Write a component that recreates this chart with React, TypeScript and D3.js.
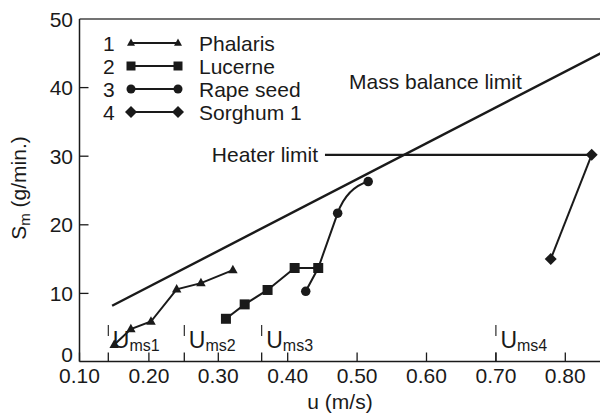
import React from "react";
import * as d3 from "d3";

const xTicks = [0.1, 0.2, 0.3, 0.4, 0.5, 0.6, 0.7, 0.8];
const yTicks = [0, 10, 20, 30, 40, 50];

const phalarisU = [0.15, 0.174, 0.203, 0.24, 0.275, 0.321];
const phalarisS = [2.5, 4.8, 5.9, 10.6, 11.5, 13.4];
const lucerneU = [0.311, 0.338, 0.371, 0.41, 0.444];
const lucerneS = [6.3, 8.4, 10.5, 13.7, 13.7];
const rapeU = [0.426, 0.444, 0.472, 0.516];
const rapeS = [10.3, 13.7, 21.7, 26.3];
const sorghumU = [0.779, 0.838];
const sorghumS = [15.0, 30.2];

const massU = [0.147, 0.87];
const massS = [8.2, 46.0];
const heaterU = [0.4537, 0.838];
const heaterS = [30.2, 30.2];

const umsU = [0.1415, 0.251, 0.3625, 0.7];
const umsLabels = ["ms1", "ms2", "ms3", "ms4"];

const legendNums = ["1", "2", "3", "4"];
const legendNames = ["Phalaris", "Lucerne", "Rape seed", "Sorghum 1"];
const legendKinds = ["tri", "sq", "circ", "dia"];

const FONT = "'Liberation Sans', Arial, Helvetica, sans-serif";
const INK = "#1a1a1a";
const FS = 21;

function markerPath(kind: string, s: number): string {
  if (kind === "tri") {
    const h = s * 0.9;
    return `M0,${-h * 0.62}L${s / 2},${h * 0.38}L${-s / 2},${h * 0.38}Z`;
  }
  if (kind === "sq") {
    const r = s / 2;
    return `M${-r},${-r}H${r}V${r}H${-r}Z`;
  }
  if (kind === "dia") {
    const r = s / 2;
    return `M0,${-r}L${r},0L0,${r}L${-r},0Z`;
  }
  return (d3.symbol().type(d3.symbolCircle).size(Math.PI * (s / 2) * (s / 2))() as string) || "";
}

export default function App() {
  const W = 600;
  const H = 418;
  const x = d3.scaleLinear().domain([0.1, 0.85]).range([79.5, 600]);
  const y = d3.scaleLinear().domain([0, 50]).range([362, 19]);
  const left = x(0.1);
  const top = y(50);
  const bottom = 361.5;

  const line = d3
    .line<[number, number]>()
    .x((d) => x(d[0]))
    .y((d) => y(d[1]));

  const zip = (a: number[], b: number[]) => a.map((v, i) => [v, b[i]] as [number, number]);

  // rape seed: straight segments, then a bending last segment
  const rapePts = zip(rapeU, rapeS);
  const rapePath = (() => {
    const p = d3.path();
    const px = rapePts.map((d) => [x(d[0]), y(d[1])]);
    p.moveTo(px[0][0], px[0][1]);
    for (let i = 1; i < px.length - 1; i++) p.lineTo(px[i][0], px[i][1]);
    const a = px[px.length - 2];
    const b = px[px.length - 1];
    p.quadraticCurveTo(a[0] + (b[0] - a[0]) * 0.3, a[1] + (b[1] - a[1]) * 0.8, b[0], b[1]);
    return p.toString();
  })();

  const series = [
    { pts: rapePts, kind: "circ", size: 9.5, d: rapePath },
    { pts: zip(phalarisU, phalarisS), kind: "tri", size: 9.5, d: "" },
    { pts: zip(lucerneU, lucerneS), kind: "sq", size: 10, d: "" },
    { pts: zip(sorghumU, sorghumS), kind: "dia", size: 12, d: "" },
  ];

  return (
    <svg
      width={W}
      height={H}
      viewBox={`0 0 ${W} ${H}`}
      style={{ position: "absolute", left: 0, top: 0, background: "#fff" }}
      fontFamily={FONT}
    >
      <rect x={0} y={0} width={W} height={H} fill="#fff" />
      {/* frame */}
      <line x1={left} x2={W} y1={top} y2={top} stroke="#444" strokeWidth={1.5} />
      <line x1={left} x2={left} y1={top} y2={bottom} stroke={INK} strokeWidth={1.5} />
      <line x1={left} x2={W} y1={bottom} y2={bottom} stroke={INK} strokeWidth={1.5} />

      {/* y ticks */}
      {yTicks.map((t) => (
        <g key={"y" + t}>
          {t > 0 && t < 50 && (
            <line x1={left} x2={left + 9} y1={y(t)} y2={y(t)} stroke={INK} strokeWidth={1.3} />
          )}
          <text
            x={73}
            y={y(t) + (t === 0 ? -8 : 0)}
            dy="0.36em"
            textAnchor="end"
            fontSize={FS}
            fill={INK}
          >
            {t}
          </text>
        </g>
      ))}

      {/* x ticks */}
      {xTicks.map((t) => (
        <g key={"x" + t}>
          <line x1={x(t)} x2={x(t)} y1={bottom} y2={bottom - 9} stroke={INK} strokeWidth={1.3} />
          <text x={x(t)} y={383} textAnchor="middle" fontSize={FS} fill={INK}>
            {t.toFixed(2)}
          </text>
        </g>
      ))}

      {/* Ums markers */}
      {umsU.map((u, i) => (
        <g key={"u" + i}>
          <line x1={x(u)} x2={x(u)} y1={bottom} y2={bottom - 9} stroke={INK} strokeWidth={1.3} />
          <line x1={x(u)} x2={x(u)} y1={325} y2={336} stroke={INK} strokeWidth={1.1} />
          <text x={x(u) + 4.5} y={348} fontSize={23} fill={INK}>
            U
            <tspan fontSize={16} dy={3}>
              {umsLabels[i]}
            </tspan>
          </text>
        </g>
      ))}

      {/* limit lines */}
      <path d={line(zip(massU, massS)) || ""} fill="none" stroke={INK} strokeWidth={2.4} />
      <path d={line(zip(heaterU, heaterS)) || ""} fill="none" stroke={INK} strokeWidth={2.2} />
      <text x={349} y={89} fontSize={FS} fill={INK}>
        Mass balance limit
      </text>
      <text x={318} y={y(heaterS[0])} dy="0.36em" textAnchor="end" fontSize={FS} fill={INK}>
        Heater limit
      </text>

      {/* series */}
      {series.map((s, i) => (
        <g key={"s" + i}>
          <path d={s.d || line(s.pts) || ""} fill="none" stroke={INK} strokeWidth={2} />
          {s.pts.map((p, j) => (
            <path
              key={j}
              d={markerPath(s.kind, s.size)}
              transform={`translate(${x(p[0])},${y(p[1])})`}
              fill={INK}
            />
          ))}
        </g>
      ))}

      {/* legend */}
      {legendNames.map((name, i) => {
        const cy = 43 + i * 23;
        const k = legendKinds[i];
        const sz = k === "tri" ? 8 : k === "dia" ? 12 : 9;
        return (
          <g key={"l" + i}>
            <text x={103} y={cy} dy="0.36em" fontSize={FS} fill={INK}>
              {legendNums[i]}
            </text>
            <line x1={131} x2={178} y1={cy} y2={cy} stroke={INK} strokeWidth={2} />
            <path d={markerPath(k, sz)} transform={`translate(131,${cy})`} fill={INK} />
            <path d={markerPath(k, sz)} transform={`translate(178,${cy})`} fill={INK} />
            <text x={199} y={cy} dy="0.36em" fontSize={FS} fill={INK}>
              {name}
            </text>
          </g>
        );
      })}

      {/* axis titles */}
      <text x={340} y={409} textAnchor="middle" fontSize={FS} fill={INK}>
        u (m/s)
      </text>
      <text
        transform="translate(26,188) rotate(-90)"
        textAnchor="middle"
        fontSize={FS}
        fill={INK}
      >
        S
        <tspan fontSize={15} dy={4}>
          m
        </tspan>
        <tspan dy={-4}> (g/min.)</tspan>
      </text>
    </svg>
  );
}
